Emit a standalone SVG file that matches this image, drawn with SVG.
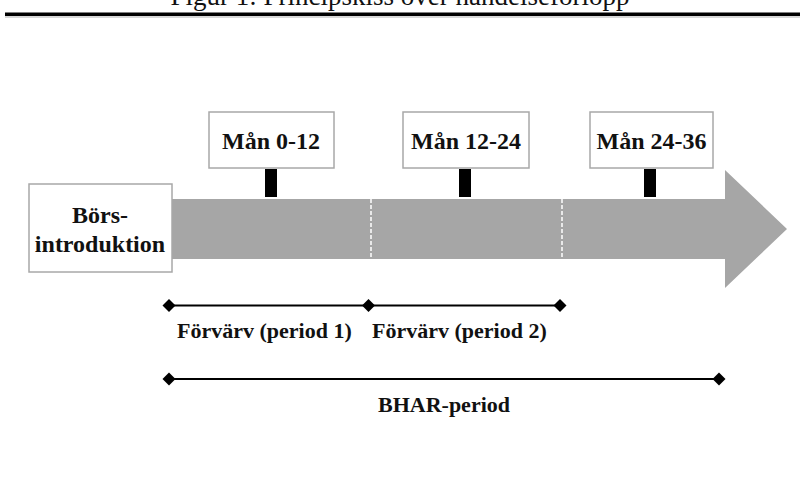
<svg xmlns="http://www.w3.org/2000/svg" width="800" height="477" viewBox="0 0 800 477">
  <style>
    .t { font-family: "Liberation Serif", "Times New Roman", serif; fill: #111; }
    .b { font-weight: bold; }
    .lbl { font-size: 24px; text-anchor: middle; }
    .per { font-size: 22px; }
    .box { fill: #fff; stroke: #a8a8a8; stroke-width: 1.5; }
    .stem { fill: #000; }
    .div { stroke: #fff; stroke-width: 1.5; stroke-dasharray: 4 2; }
    .tl { stroke: #000; stroke-width: 1.8; fill: none; }
  </style>
  <defs>
    <marker id="dia" viewBox="-8 -8 16 16" markerWidth="16" markerHeight="16" markerUnits="userSpaceOnUse" refX="0" refY="0" orient="auto">
      <path d="M -6.5 0 L 0 -6.5 L 6.5 0 L 0 6.5 Z" fill="#000"/>
    </marker>
  </defs>
  <rect width="800" height="477" fill="#fff"/>

  <g id="title">
    <text class="t" x="400" y="5" font-size="27" text-anchor="middle">Figur 1: Principskiss över händelseförlopp</text>
    <rect x="5" y="12.5" width="795" height="3.5" fill="#000"/>
    <rect x="5" y="16.5" width="795" height="1" fill="#b0b0b0"/>
  </g>

  <g id="arrow">
    <path d="M 160 199 L 725 199 L 725 170 L 787 229 L 725 288 L 725 259 L 160 259 Z" fill="#a6a6a6"/>
    <line class="div" x1="371" y1="199" x2="371" y2="259"/>
    <line class="div" x1="562" y1="199" x2="562" y2="259"/>
  </g>

  <g id="node-bors">
    <rect class="box" x="29" y="184" width="143" height="88"/>
    <text class="t b lbl" x="100" y="223">Börs-</text>
    <text class="t b lbl" x="100" y="252">introduktion</text>
  </g>

  <g id="node-man-0-12">
    <rect class="box" x="209" y="112" width="125" height="56"/>
    <text class="t b lbl" x="271" y="149">Mån 0-12</text>
    <rect class="stem" x="265" y="169" width="12" height="28"/>
  </g>

  <g id="node-man-12-24">
    <rect class="box" x="403" y="112" width="126" height="56"/>
    <text class="t b lbl" x="466" y="149">Mån 12-24</text>
    <rect class="stem" x="459" y="169" width="12" height="28"/>
  </g>

  <g id="node-man-24-36">
    <rect class="box" x="590" y="112" width="123" height="56"/>
    <text class="t b lbl" x="651.5" y="149">Mån 24-36</text>
    <rect class="stem" x="644" y="169" width="12" height="28"/>
  </g>

  <g id="connectors">
    <line class="tl" x1="169" y1="305.5" x2="368.5" y2="305.5" marker-start="url(#dia)" marker-end="url(#dia)"/>
    <line class="tl" x1="368.5" y1="305.5" x2="560" y2="305.5" marker-end="url(#dia)"/>
    <line class="tl" x1="169" y1="379" x2="719" y2="379" marker-start="url(#dia)" marker-end="url(#dia)"/>
  </g>

  <g id="labels">
    <text class="t b per" x="177" y="338">Förvärv (period 1)</text>
    <text class="t b per" x="372" y="338">Förvärv (period 2)</text>
    <text class="t b per" x="444" y="412" text-anchor="middle">BHAR-period</text>
  </g>
</svg>
